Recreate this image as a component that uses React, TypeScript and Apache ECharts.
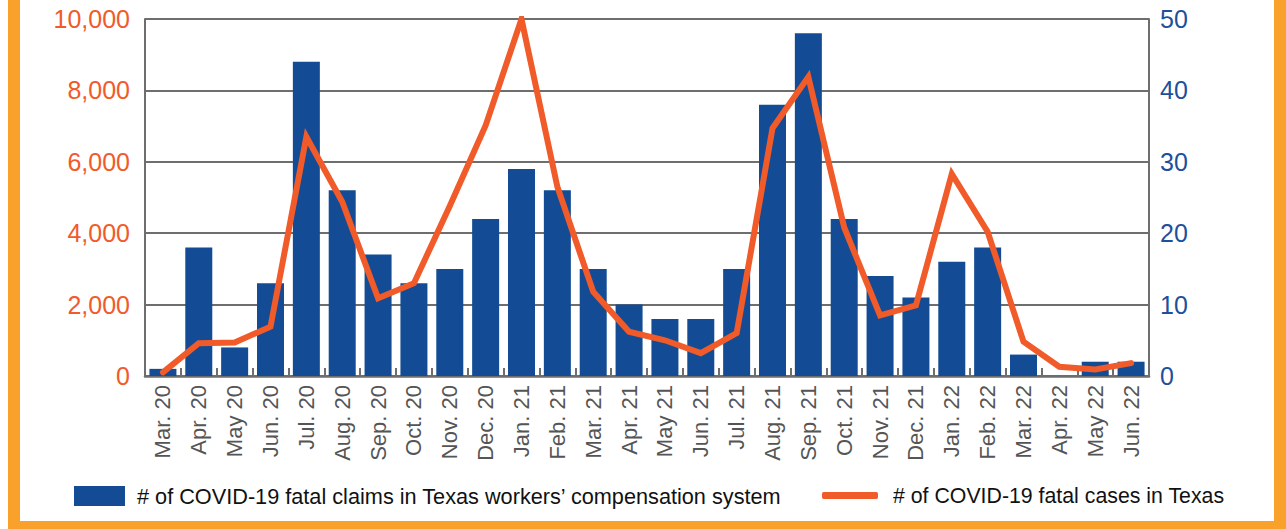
import React, { useEffect, useRef } from "react";
import * as echarts from "echarts";

const categories = [
  "Mar. 20", "Apr. 20", "May 20", "Jun. 20", "Jul. 20", "Aug. 20", "Sep. 20", "Oct. 20",
  "Nov. 20", "Dec. 20", "Jan. 21", "Feb. 21", "Mar. 21", "Apr. 21", "May 21", "Jun. 21",
  "Jul. 21", "Aug. 21", "Sep. 21", "Oct. 21", "Nov. 21", "Dec. 21", "Jan. 22", "Feb. 22",
  "Mar. 22", "Apr. 22", "May 22", "Jun. 22",
];

const claims = [
  200, 3600, 800, 2600, 8800, 5200, 3400, 2600,
  3000, 4400, 5800, 5200, 3000, 2000, 1600, 1600,
  3000, 7600, 9600, 4400, 2800, 2200, 3200, 3600,
  600, 0, 400, 400,
];

const cases = [
  0.5, 4.6, 4.7, 6.9, 33.5, 24.4, 10.9, 13.0,
  23.8, 35.1, 50, 26.5, 11.8, 6.2, 5.0, 3.2,
  6.0, 34.7, 41.9, 20.8, 8.5, 9.9, 28.3, 20.2,
  4.8, 1.3, 0.9, 1.8,
];

const claimsName = "# of COVID-19 fatal claims in Texas workers\u2019 compensation system";
const casesName = "# of COVID-19 fatal cases in Texas";

const BLUE = "#134C94";
const ORANGE = "#F15A29";
const FRAME = "#F9A12B";
const AXIS = "#6E6E6E";
const FONT = "'Liberation Sans', Arial, sans-serif";

export default function App() {
  const ref = useRef<HTMLDivElement>(null);
  useEffect(() => {
    if (!ref.current) return;
    const chart = echarts.init(ref.current, null, { renderer: "svg" });
    chart.setOption({
      animation: false,
      backgroundColor: "#ffffff",
      textStyle: { fontFamily: FONT },
      grid: { left: 145, right: 137, top: 19, bottom: 153, containLabel: false },
      graphic: [
        { type: "rect", shape: { x: 8, y: 0, width: 12, height: 529 }, style: { fill: FRAME }, silent: true },
        { type: "rect", shape: { x: 1274, y: 0, width: 12, height: 529 }, style: { fill: FRAME }, silent: true },
        { type: "rect", shape: { x: 8, y: 521, width: 1278, height: 8 }, style: { fill: FRAME }, silent: true },
      ],
      legend: [
        {
          data: [{ name: claimsName, icon: "rect" }],
          left: 74,
          top: 485,
          itemWidth: 51,
          itemHeight: 20,
          padding: 0,
          textStyle: { fontFamily: FONT, fontSize: 21.7, color: "#111", padding: [0, 0, 0, 7] },
        },
        {
          data: [{ name: casesName, icon: "roundRect" }],
          left: 822,
          top: 485,
          itemWidth: 56,
          itemHeight: 7,
          padding: 0,
          itemStyle: { color: ORANGE },
          textStyle: { fontFamily: FONT, fontSize: 21.3, color: "#111", padding: [0, 0, 0, 10] },
        },
      ],
      xAxis: {
        type: "category",
        data: categories,
        axisLine: { show: true, lineStyle: { color: AXIS, width: 2.5 } },
        axisTick: { show: true, inside: true, length: 8, lineStyle: { color: AXIS, width: 2 } },
        axisLabel: {
          rotate: 90,
          interval: 0,
          margin: 9,
          fontSize: 22,
          color: "#555555",
          fontFamily: FONT,
        },
      },
      yAxis: [
        {
          type: "value",
          min: 0,
          max: 10000,
          interval: 2000,
          axisLine: { show: true, lineStyle: { color: AXIS, width: 2 } },
          axisTick: { show: false },
          splitLine: { show: true, lineStyle: { color: AXIS, width: 2 } },
          axisLabel: {
            fontSize: 25,
            color: ORANGE,
            margin: 15,
            fontFamily: FONT,
            formatter: (v: number) => v.toLocaleString("en-US"),
          },
        },
        {
          type: "value",
          min: 0,
          max: 50,
          interval: 10,
          axisLine: { show: true, lineStyle: { color: AXIS, width: 2 } },
          axisTick: { show: false },
          splitLine: { show: false },
          axisLabel: { fontSize: 25, color: "#1D4F9B", margin: 11, fontFamily: FONT },
        },
      ],
      series: [
        {
          name: claimsName,
          type: "bar",
          data: claims,
          barWidth: 27,
          itemStyle: { color: BLUE },
          yAxisIndex: 0,
        },
        {
          name: casesName,
          type: "line",
          data: cases,
          yAxisIndex: 1,
          showSymbol: false,
          symbol: "none",
          lineStyle: { color: ORANGE, width: 6, join: "miter", cap: "round" },
          itemStyle: { color: ORANGE },
          z: 5,
        },
      ],
    });
    return () => chart.dispose();
  }, []);
  return (
    <div
      ref={ref}
      style={{ position: "fixed", left: 0, top: 0, width: 1286, height: 529, background: "#fff" }}
    />
  );
}
